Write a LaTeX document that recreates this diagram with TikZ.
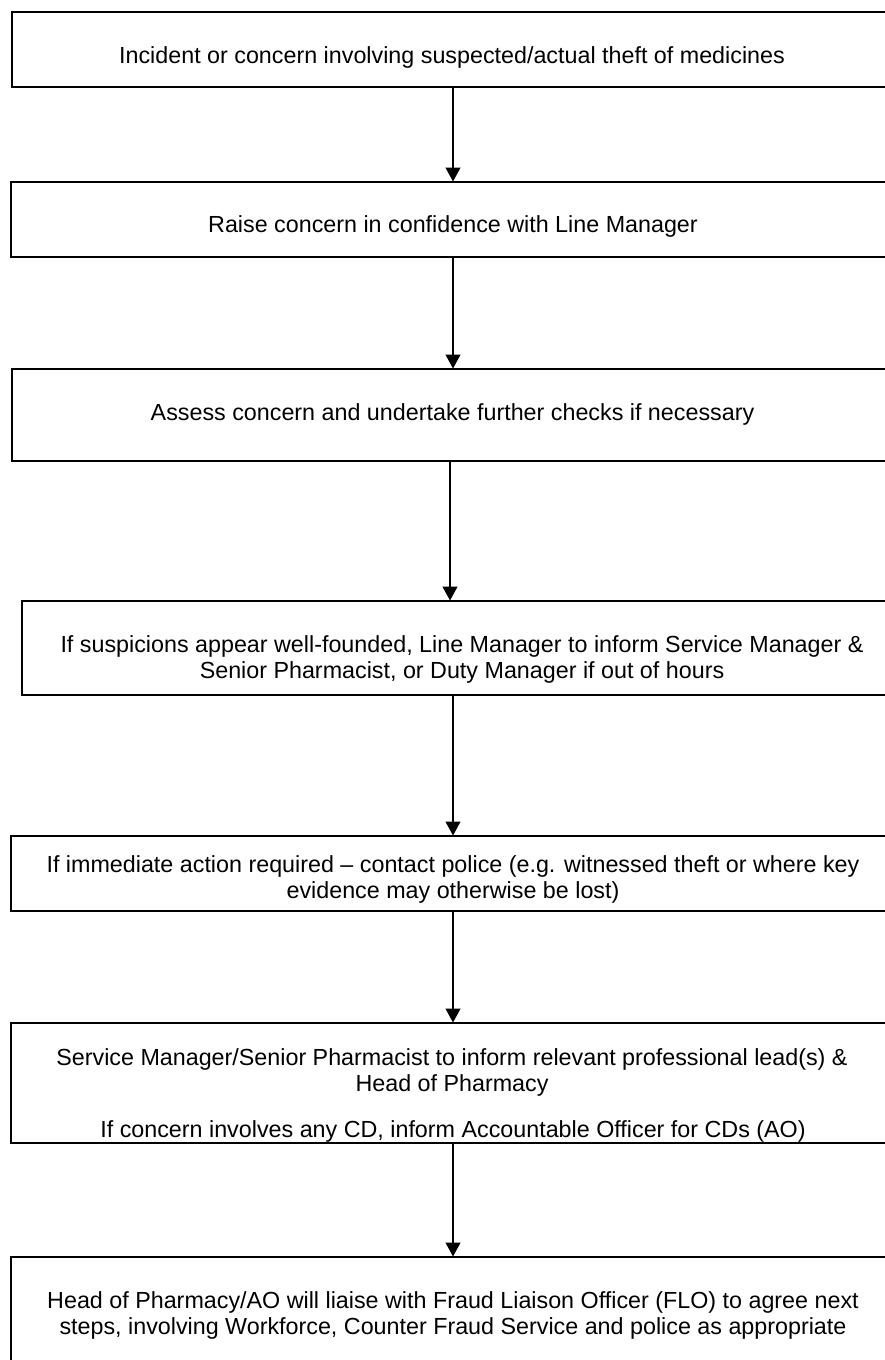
\documentclass[tikz,border=0pt]{standalone}
\usepackage{fontspec}
\setmainfont{Liberation Sans}
\usetikzlibrary{arrows.meta}
\begin{document}
\begin{tikzpicture}[x=1pt,y=-1pt,
  box/.style={draw, line width=2pt, rectangle, anchor=north west, inner sep=0pt},
  txt/.style={align=center, inner sep=0pt, font=\fontsize{23.3}{26}\selectfont},
  arr/.style={line width=1.2pt, -{Triangle[length=14pt,width=15pt]}, shorten >=-0.5pt}]
\useasboundingbox (0,0) rectangle (885,1360);
\clip (0,0) rectangle (885,1360);
\node[box, minimum width=884pt, minimum height=75pt] (b1) at (11,11) {};
\node[box, minimum width=885pt, minimum height=75pt] (b2) at (10,181) {};
\node[box, minimum width=879pt, minimum height=92pt] (b3) at (11,368) {};
\node[box, minimum width=882pt, minimum height=94pt] (b4) at (21,600) {};
\node[box, minimum width=885pt, minimum height=75pt] (b5) at (10,835) {};
\node[box, minimum width=885pt, minimum height=120pt] (b6) at (10,1022) {};
\node[box, minimum width=885pt, minimum height=160pt] (b7) at (10,1256) {};
\node[txt] (t1) at (452,57) {Incident or concern involving suspected/actual theft of medicines};
\node[txt] (t2) at (453,226) {Raise concern in confidence with Line Manager};
\node[txt] (t3) at (452.5,414) {Assess concern and undertake further checks if necessary};
\node[txt] (t4) at (462,659) {If suspicions appear well-founded, Line Manager to inform Service Manager \&\\Senior Pharmacist, or Duty Manager if out of hours};
\node[txt] (t5) at (453,879) {If immediate action required -- contact police (e.g. witnessed theft or where key\\evidence may otherwise be lost)};
\node[txt] (t6) at (452,1072) {Service Manager/Senior Pharmacist to inform relevant professional lead(s) \&\\Head of Pharmacy};
\node[txt] (t6b) at (453,1131) {If concern involves any CD, inform Accountable Officer for CDs (AO)};
\node[txt] (t7) at (453,1315) {Head of Pharmacy/AO will liaise with Fraud Liaison Officer (FLO) to agree next\\steps, involving Workforce, Counter Fraud Service and police as appropriate};
\coordinate (ax) at (453,0);
\coordinate (ay) at (450,0);
\draw[arr] (b1.south -| ax) -- (b2.north -| ax);
\draw[arr] (b2.south -| ax) -- (b3.north -| ax);
\draw[arr] (b3.south -| ay) -- (b4.north -| ay);
\draw[arr] (b4.south -| ax) -- (b5.north -| ax);
\draw[arr] (b5.south -| ax) -- (b6.north -| ax);
\draw[arr] (b6.south -| ax) -- (b7.north -| ax);
\end{tikzpicture}
\end{document}
